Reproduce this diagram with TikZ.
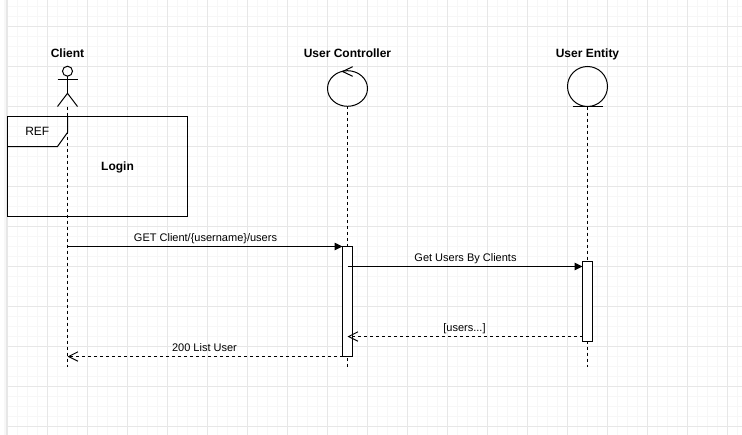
\documentclass[tikz,border=0pt]{standalone}
\usepackage{fontspec}
\setmainfont{Liberation Sans}
\usetikzlibrary{arrows.meta,positioning}
\definecolor{gridminor}{RGB}{247,247,247}
\definecolor{gridmajor}{RGB}{231,231,231}
\tikzset{
  lifeline/.style={black,line width=0.75pt,dash pattern=on 2.25pt off 2.25pt},
  shapeline/.style={black,line width=0.75pt},
  bar/.style={draw=black,fill=white,line width=0.75pt,inner sep=0pt,outer sep=0pt,minimum width=7.5pt},
  headlabel/.style={font=\fontsize{9}{10.5}\selectfont\bfseries,inner sep=0pt,anchor=base},
  msglabel/.style={font=\fontsize{8.25}{10}\selectfont,inner sep=0pt,anchor=base},
  callmsg/.style={shapeline,-{Triangle[length=6pt,width=5.6pt]}},
  replymsg/.style={lifeline,-{Straight Barb[length=7pt,width=7pt]}}
}

\begin{document}
\begin{tikzpicture}[x=0.75pt,y=-0.75pt]
  \useasboundingbox (0,0) rectangle (742,435);
  \fill[white] (0,0) rectangle (742,435);
  % ---- page grid ----
  \fill[gridminor] (4,0) rectangle (6,435);
  \foreach \x in {7.5,17.5,...,737.5}{
      \draw[gridminor,line width=0.75pt] (\x,0) -- (\x,435);}
  \foreach \y in {6.5,16.5,...,426.5}{
      \draw[gridminor,line width=0.75pt] (7,\y) -- (742,\y);}
  \foreach \x in {6.5,7.5,47.5,87.5,...,727.5}{
      \draw[gridmajor,line width=0.75pt] (\x,0) -- (\x,435);}
  \foreach \y in {26.5,66.5,...,426.5}{
      \draw[gridmajor,line width=0.75pt] (7,\y) -- (742,\y);}
  % ---- client actor ----
  \node[headlabel] (clientlabel) at (67.5,57.6) {Client};
  \draw[shapeline] (67.5,71.2) circle (5);
  \draw[shapeline] (67.5,76.2) -- (67.5,93.3);
  \draw[shapeline] (57.5,79.8) -- (77.5,79.8);
  \draw[shapeline] (57.5,106.5) -- (67.5,93.3) -- (77.5,106.5);
  \coordinate (clienttop) at (67.5,106.5);
  \coordinate (clientend) at (67.5,366.5);
  \draw[lifeline] (clienttop) -- (clientend);
  % ---- ref frame ----
  \draw[shapeline] (7.5,116.5) rectangle (187.5,216.5);
  \draw[shapeline] (7.5,146.5) -- (57.5,146.5) -- (67.5,132.5) -- (67.5,116.5);
  \node[msglabel,font=\fontsize{9}{10.5}\selectfont] (reflabel) at (37.3,135.5) {REF};
  \node[headlabel] (loginlabel) at (117.5,170) {Login};
  % ---- user controller ----
  \node[headlabel] (controllerlabel) at (347.5,57.6) {User Controller};
  \draw[shapeline] (347.5,88.5) ellipse (20 and 17.8);
  \draw[shapeline] (352.7,66.7) -- (342.5,71.5) -- (352.7,76.3);
  \coordinate (controllertop) at (347.5,106.3);
  \coordinate (controllerend) at (347.5,366.5);
  \draw[lifeline] (controllertop) -- (controllerend);
  % ---- user entity ----
  \node[headlabel] (entitylabel) at (587.5,57.6) {User Entity};
  \draw[shapeline] (587.5,86.5) circle (20);
  \draw[shapeline] (572.5,106.5) -- (602.5,106.5);
  \coordinate (entitytop) at (587.5,106.5);
  \coordinate (entityend) at (587.5,366.5);
  \draw[lifeline] (entitytop) -- (entityend);
  % ---- activation bars ----
  \node[bar,minimum height=82.5pt] (controllerbar) at (347.5,301.5) {};
  \node[bar,minimum height=60pt] (entitybar) at (587.5,301.5) {};
  % ---- messages ----
  \coordinate (getstart) at (67.5,246.5);
  \draw[callmsg] (getstart) -- (controllerbar.north west);
  \node[msglabel] (getlabel) at (205.5,241) {GET Client/\{username\}/users};
  \coordinate (usersstart) at (347.5,266.5);
  \coordinate (usersend) at (582.5,266.5);
  \draw[callmsg] (usersstart) -- (usersend);
  \node[msglabel] (userslabel) at (465.5,261) {Get Users By Clients};
  \coordinate (replystart) at (582.5,336.5);
  \coordinate (replyend) at (347.5,336.5);
  \draw[replymsg] (replystart) -- (replyend);
  \node[msglabel] (replylabel) at (464.5,331) {[users...]};
  \coordinate (listend) at (67.5,356.5);
  \draw[replymsg] (controllerbar.south west) -- (listend);
  \node[msglabel] (listlabel) at (204.5,351) {200 List User};
\end{tikzpicture}
\end{document}
